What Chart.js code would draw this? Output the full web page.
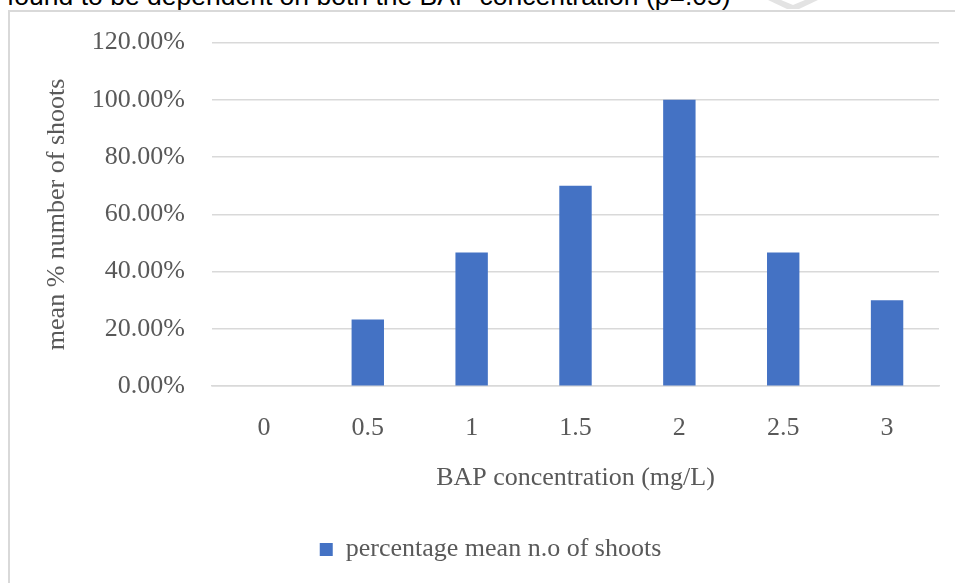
<!DOCTYPE html>
<html>
<head>
<meta charset="utf-8">
<script src="https://cdn.jsdelivr.net/npm/chart.js@4/dist/chart.umd.min.js"></script>
<style>
  html, body { margin: 0; padding: 0; background: #ffffff; overflow: hidden; }
  #wrap { position: relative; width: 955px; height: 583px; overflow: hidden; background: #fff; }
  #frame { position: absolute; left: 8px; top: 10px; width: 1000px; height: 1000px; border: 2px solid #d9d9d9; box-sizing: border-box; }
  #toptext { position: absolute; left: 7px; top: -17px; font-family: "Liberation Sans", Arial, sans-serif; font-size: 26.5px; line-height: 27px; color: #000; white-space: nowrap; }
  #mark { position: absolute; left: 0; top: 0; }
  canvas { position: absolute; left: 0; top: 0; }
</style>
</head>
<body>
<div id="wrap">
  <div id="frame"></div>
  <div id="toptext">found to be dependent on both the BAP concentration (p=.05)</div>
  <svg id="mark" width="955" height="12"><polygon points="768,0 818,0 799,9 787,9" fill="#e3e3e3"/><polygon points="781,0 805,0 793,5" fill="#ffffff"/></svg>
  <canvas id="c" width="955" height="583"></canvas>
</div>
<script>
const categories = ["0", "0.5", "1", "1.5", "2", "2.5", "3"];
const seriesLabel = "percentage mean n.o of shoots";
const seriesValues = [0, 0.2333, 0.4667, 0.70, 1.00, 0.4667, 0.30];
const yTickValues = [0, 0.2, 0.4, 0.6, 0.8, 1.0, 1.2];
const yTitle = "mean % number of shoots";
const xTitle = "BAP concentration (mg/L)";

const serif = "'Liberation Serif', 'Times New Roman', serif";
const textColor = "#595959";

new Chart(document.getElementById('c'), {
  type: 'bar',
  data: {
    labels: categories,
    datasets: [{
      label: seriesLabel,
      data: seriesValues,
      backgroundColor: '#4472C4',
      borderWidth: 0,
      barPercentage: 0.312,
      categoryPercentage: 1.0
    }]
  },
  options: {
    responsive: false,
    animation: false,
    devicePixelRatio: 1,
    layout: { padding: { left: 42, right: 16, top: 38, bottom: 10.4 } },
    plugins: {
      tooltip: { enabled: false },
      legend: {
        position: 'bottom',
        labels: {
          boxWidth: 13, boxHeight: 13, padding: 10,
          color: textColor,
          font: { family: serif, size: 26 }
        }
      }
    },
    scales: {
      x: {
        afterFit: (s) => { s.height = 140.4; },
        grid: { display: false, drawTicks: false },
        border: { display: true, color: '#d9d9d9', width: 1.5 },
        ticks: { color: textColor, font: { family: serif, size: 26 }, padding: 26, maxRotation: 0 },
        title: { display: true, text: xTitle, color: textColor, font: { family: serif, size: 26 }, padding: { top: 0, bottom: 32.4 } }
      },
      y: {
        min: 0, max: 1.2,
        afterFit: (s) => { s.width = 170; },
        afterBuildTicks: (s) => { s.ticks = yTickValues.map(v => ({ value: v })); },
        grid: { color: '#d9d9d9', lineWidth: 1.5, drawTicks: false },
        border: { display: false },
        ticks: {
          color: textColor, font: { family: serif, size: 26 }, padding: 27,
          callback: (v) => (v * 100).toFixed(2) + '%'
        },
        title: { display: true, text: yTitle, color: textColor, font: { family: serif, size: 26 }, padding: { top: 0, bottom: 0 } }
      }
    }
  }
});
</script>
</body>
</html>
